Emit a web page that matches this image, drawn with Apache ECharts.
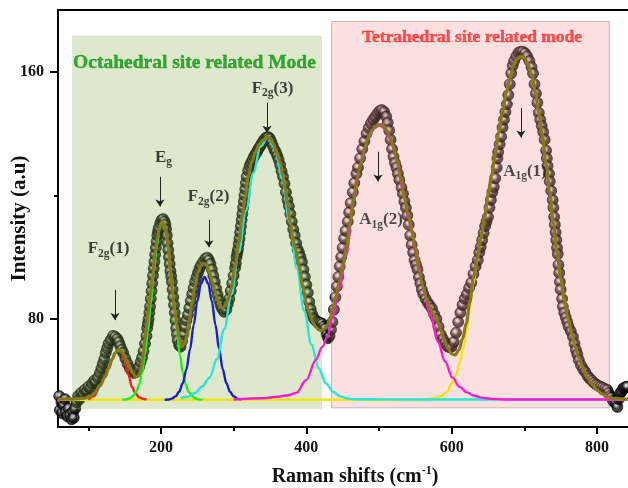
<!DOCTYPE html>
<html><head><meta charset="utf-8">
<script src="https://cdn.jsdelivr.net/npm/echarts@6/dist/echarts.min.js"></script>
<style>html,body{margin:0;padding:0;background:#fff}#c{width:628px;height:488px}</style>
</head><body><div id="c"></div>
<script>
// ---------- data ----------
const measuredSpectrum = [[58,52],[60,55],[61,50.5],[63,53],[64,49.5],[66,52],[68,54],[69,50],[71,48.5],[73,51],[75,49],[77,47.5],[79,50],[80,48],[82,51],[84,53],[86,55],[88,54],[90,56],[93,55.5],[95,57],[98,56.5],[100,58],[103,57.5],[105,59],[108,60],[110,59.5],[113,61],[116,62.5],[118,64],[120,65.5],[122,67],[124,69],[126,70.5],[128,72],[131,73.2],[134,74.5],[137,74.2],[140,73.5],[142,72.5],[144,71.2],[146,70],[148,69],[151,67.2],[154,65.5],[157,64],[160,63],[163,62.5],[166,62.8],[168,63.5],[170,64.5],[172,66],[174,67.5],[176,69.5],[178,72],[180,74.5],[181,77],[182,78.5],
[183,80],[184,82],[185,84],[186,86.5],[187,89],[188,91.5],[189,94],[190,96.3],[191,98.5],[192,100.8],[193,103],[194,105],[195,107],[196,108.3],[197,109.5],[199,111],[201,112],[203,112.3],[205,111.5],[206,110.5],[207,109],[208,107],[209,104.5],[210,102.3],[211,100],[212,97.8],[213,95.5],[214,93.8],[215,92],[216,89.5],[217,87],[218,84.5],[219,82],[220,79.5],[221,77],[222,75],[223,73],[225,71.5],[227,71],[229,72.8],[231,75],[233,77.4],[235,79.5],[237,81.3],[239,83.5],[241,85.8],[243,88],[245,90],[247,92],[249,93.5],[251,95],[253,96.3],[255,97.3],[258,98.4],[261,99.5],[264,99.8],[266,99],[268,97.8],[270,96],[272,94],[274,92],[276,89.8],[278,87.8],[280,86],[282,84.5],[284,83.3],[287,82.3],[290,83],[292,84.8],[294,86.5],[296,89],[298,91.5],[300,94],
[302,96.5],[303,98],[304,100],[305,101.3],[306,102.5],[307,104.3],[308,106],[309,108],[310,110],[311,112],[312,114],[313,116],[314,118],[315,120],[316,122],[317,124],[318,126],[320,128],[322,129.5],[324,130.5],[326,131.5],[328,132.5],[330,133.3],[332,134],[334,135],[336,135.7],[338,136.5],[340,137.3],[342,138],[344,138.6],[346,138.8],[348,138.8],[350,138.3],[352,137.2],[354,136],[356,134.8],[358,134],[360,132.8],[362,131.5],[364,129.8],[366,127.8],[368,126],[370,123.8],[372,121],[374,118.5],[376,116.5],[378,114],[380,111.5],[382,109],[384,107],[386,104.5],[388,102.5],[390,101.5],[392,100],[394,98.4],[396,96],[398,93.6],[400,91],[402,88.5],[404,85.5],[406,83.2],[408,81.5],[410,80.3],[412,79.8],[414,79.2],[416,79],[418,78.8],[420,78.6],[422,78.4],[424,77.5],[426,76.8],[428,75],[430,73.8],[432,74.5],[434,76.5],[436,79],[438,83],[440,87],[442,90.5],[444,93.6],
[446,97],[448,100],[450,103],[452,106],[454,108.5],[457,111.5],[459,114.5],[461,117.5],[464,121],[466,124],[469,127],[471,129],[474,132],[477,135],[480,137.5],[483,140],[486,141.8],[489,143.3],[492,144.5],[495,145.5],[498,146.5],[501,147.3],[504,147.6],[507,147],[510,145.5],[512,143.5],[514,141],[516,138],[518,135],[520,132.5],[522,130.5],[524,129],[526,127],[528,125],[531,122.5],[533,120.5],[535,118],[537,116],[539,113.5],[541,110.5],[543,107],[545,104],[547,101.5],[549,99],[551,97.5],[553,96],[555,93.5],[557,91.5],[559,89.5],[561,88],[564,86.5],[567,85.3],[570,84.3],[573,83.3],[576,81.5],[579,80],[582,77.5],[585,75],[588,73.5],[591,72.2],[594,71.2],[597,70.8],[600,71],[603,72.5],[606,75.5],[609,79],[612,82],[615,84.5],[618,86.5],[621,88],[624,90],[627,91.7],[630,94.5],[633,97],[636,99],[638,101.5],[640,103.3],[642,105.5],[644,107.8],[646,110],[648,111.5],[650,113],[652,116],[654,118.5],[656,121],[658,122.7],[660,125.5],[662,129],[663,132],[664,134],[666,136.5],[668,139],[670,142],[672,144.5],[674,147],[676,149.5],[678,152.5],[680,156],[682,159.5],[684,162],[686,163.5],[689,165],[692,166.2],[695,166.5],[698,166.5],[701,166],[704,165],[707,163.5],[710,161.5],[712,159.5],[714,156],[716,153],[718,150],[720,146.7],[722,144.5],[724,142.5],[726,140.5],[728,138],[730,134.5],[731,132],[732,129.5],[734,127],[735,124.5],[737,121.5],[739,118.5],[740,116],[741,113],[742,110.5],[743,108],[744,105.5],[745,103],[746,101],[747,97.5],[748,94.9],[749,92],[750,89.5],[752,86.5],[753,84],[755,82],[757,80.5],[759,79],[761,77.5],[764,76],[767,74.2],[769,72],[771,70],[773,68.5],[775,66.7],[778,65],[781,63.7],[784,62.8],[787,61.5],[790,60.7],[793,60],[796,59.3],[799,58.8],[802,58.3],[805,58],[808,57.7],[811,57.3],[814,57],[816,56],[818,55],[820,54.5],[822,53.5],[824,53],[826,52.8],[828,51.5],[830,54],[832,56],[834,56.5],[836,57.5],[838,57.7],[840,58],[842,58]];

const fitSum = [[58,54],[80,54],[95,54.3],[103,55],[109,56],[116,58.3],[123,61.2],[128,64],[133,67],[137,69],[141,70],[145,69.6],[148,68.8],[153,66.5],[157,64.5],[161,62.5],[165,61.3],[168,61.5],[171,62.5],[173,64.5],[175,67.7],[178,73.5],[180,77.5],[182,82],[185,87.5],[188,93.2],[192,101.5],[195,106],[198,109.5],[201,111.4],[204,110.8],[207,108.5],[210,103.5],[213,95.5],[216,88],[219,82.5],[222,78],[225,74],[229,71],[232,71.8],[236,74.5],[239,79.5],[243,85.5],[247,90.5],[251,95],[255,97.2],[259,98],[263,97.3],[267,95],[271,91.8],[275,88.5],[279,85.5],[282,84],[285,83.5],[288,84.2],[292,86],[296,89.5],[302,96.8],[307,104.5],[312,113.5],[316,119.5],[320,126],[325,130.8],[330,134],[335,136.5],[340,137.8],[346,138.9],[351,138.3],[355,136.5],[360,133.5],[364,130.5],[368,126],[371,122.5],[374,117.5],[378,111.5],[381,107],[385,102.5],[390,97],[395,90.5],[400,85],[404,82],[409,79],[413,77.4],[417,76.5],[420,76.2],[425,76.8],[429,78],[433,80.5],[436,83],[441,87.5],[445,91.7],[450,97],[455,102.5],[460,111],[465,118.5],[470,125.3],[475,130.5],[480,135],[485,138.5],[490,141],[495,142.4],[500,142.9],[505,142.8],[510,141.4],[515,139],[520,135.5],[525,131.3],[530,125.5],[535,119.2],[540,114],[545,108.6],[550,102.8],[555,96],[560,90.8],[565,87],[570,83.9],[575,81.5],[580,79.5],[585,76.5],[590,73],[595,70.3],[600,68.7],[605,68.3],[610,70],[615,73.5],[620,78.5],[625,85.5],[630,93.5],[635,99.5],[640,106],[645,112.5],[650,120],[655,126.5],[660,133.5],[665,140.5],[670,146.8],[675,153],[680,157.8],[685,162],[690,164.2],[695,165],[700,164.7],[705,162.5],[710,159],[715,153.5],[720,146.7],[725,139],[730,130],[735,121],[740,111],[745,101.5],[750,93],[755,86.3],[760,80.6],[765,75.5],[770,71],[775,67.5],[780,64.5],[786,61.2],[793,58.8],[800,57],[807,55.7],[814,54.7],[822,54.2],[832,54.1],[842,54]];

const peakF2g1 = [[100,53.85],[108,55],[116,58.3],[123,61.2],[128,64],[133,67],[137,69],[141,69.9],[145,69.4],[150,66.8],[155,62],[160,58],[165,55.8],[170,54.6],[175,54.1],[180,53.85]];
const peakEg = [[147,53.8],[152,53.95],[157,54.3],[162,55.1],[166,56.4],[170,58.8],[174,62.7],[178,68.4],[182,76],[186,85],[190,94.6],[194,103.1],[198,109.1],[202,111.2],[206,109.1],[210,103.1],[214,94.6],[218,85],[222,76],[226,68.4],[230,62.7],[234,58.8],[238,56.4],[242,55.1],[247,54.3],[252,53.95],[257,53.8]];
const peakF2g2 = [[205,53.8],[210,53.9],[215,54.2],[220,54.9],[225,56.4],[230,59.2],[235,63.7],[240,70.2],[245,78],[250,85.7],[255,91.4],[260,93.6],[265,91.4],[270,85.7],[275,78],[280,70.2],[285,63.7],[290,59.2],[295,56.4],[300,54.9],[305,54.2],[310,53.9]];
const peakF2g3 = [[227,54.4],[237,54.8],[247,56],[257,58.2],[267,61],[277,67],[287,76.6],[297,87.9],[307,101.5],[317,115],[327,127.2],[337,135.8],[347,138.8],[357,135.2],[367,125.3],[377,111.4],[387,96.3],[397,82.6],[407,71.7],[417,64],[427,59.1],[437,56.4],[447,54.9],[457,54.25],[467,54],[500,53.95],[650,53.9],[842,53.9]];
const peakA1g2 = [[300,53.9],[340,54.3],[360,54.8],[375,55.3],[386,56],[400,60.2],[413,66.7],[422,70.9],[429,74.2],[436,80.6],[445,89.4],[455,100.5],[465,118.3],[475,130.2],[485,138.3],[493,141.7],[501,142.7],[509,141.5],[517,137.5],[525,131.2],[533,121.6],[541,112.5],[551,101.7],[561,90.2],[571,80.8],[581,72.6],[591,66.2],[601,61],[611,58],[621,56.2],[631,55.1],[641,54.5],[656,54.1],[680,53.9],[842,53.9]];
const peakA1g1 = [[58,53.8],[540,53.8],[565,54],[578,54.4],[586,55],[593,56.3],[601,59.3],[606,62],[611,65.8],[616,70.5],[621,76.5],[625,83],[630,91.5],[635,98.8],[640,105.5],[645,112.3],[650,120],[655,126.5],[660,133.5],[665,140.5],[670,146.8],[675,153],[680,157.8],[685,162],[690,164.2],[695,165],[700,164.7],[705,162.5],[710,159],[715,153.5],[720,146.7],[725,139],[730,130],[735,121],[740,111],[745,101.5],[750,93],[755,86.3],[760,80.6],[765,75.5],[770,71],[775,67.5],[780,64.5],[786,61.2],[793,58.8],[800,57],[807,55.7],[814,54.7],[822,54.2],[832,53.9],[842,53.8]];

const xMajorTicks = [200, 400, 600, 800];
const xMinorTicks = [100, 300, 500, 700];
const yMajorTicks = [80, 160];
const yMinorTicks = [120];

// ---------- layout / annotations ----------
const FONT = 'Liberation Serif';
const X_MIN = 58.3, X_MAX = 875.7, Y_MIN = 45, Y_MAX = 180;

const regionBoxes = [
  {from: [77.5, 50.85], to: [421.6, 171.7], color: 'rgba(120,164,56,0.25)', border: 'transparent'},
  {from: [434.9, 51.2], to: [816.9, 176.3], color: 'rgba(248,136,136,0.25)', border: 'rgba(150,100,100,0.45)'}
];
const peakNotes = [
  {t: 'F{s|2g}(1)', at: [127.8, 102.7], c: '#111'},
  {t: 'E{s|g}', at: [203.5, 132.3], c: '#111'},
  {t: 'F{s|2g}(2)', at: [265.4, 119.5], c: '#111'},
  {t: 'F{s|2g}(3)', at: [353.5, 154.7], c: '#111'},
  {t: 'A{s|1g}(2)', at: [502.8, 112.1], c: '#222'},
  {t: 'A{s|1g}(1)', at: [700.9, 127.8], c: '#222'}
];
const arrows = [
  [136.7, 89.4, 79.6], [198.6, 126, 116.4], [266, 112.1, 103.2],
  [345.9, 150, 140.3], [498.6, 134.1, 124.5], [695.4, 148.3, 138.7]
];

const chart = echarts.init(document.getElementById('c'));

const sphere = new echarts.graphic.RadialGradient(0.42, 0.38, 0.6, [
  {offset: 0, color: '#ffffff'},
  {offset: 0.2, color: '#c4c4c4'},
  {offset: 0.5, color: '#1e1e1e'},
  {offset: 1, color: '#000000'}
]);

function compLine(name, data, color) {
  return {
    name, type: 'line', data, smooth: 0.35, smoothMonotone: 'x', symbol: 'none',
    lineStyle: {color, width: 2.4}, z: 10, silent: true
  };
}

const axisFont = {fontFamily: FONT, fontWeight: 'bold', color: '#111'};
const noHalo = {textBorderWidth: 0, textBorderColor: 'transparent', textShadowBlur: 0};

const option = {
  animation: false,
  backgroundColor: '#ffffff',
  grid: {left: 58, right: -24, top: 10, bottom: 61, containLabel: false, outerBoundsMode: 'none'},
  xAxis: [
    {
      type: 'value', min: X_MIN, max: X_MAX, position: 'bottom',
      axisLine: {show: true, onZero: false, lineStyle: {color: '#000', width: 2}},
      axisTick: {show: true, customValues: xMajorTicks, length: 7, lineStyle: {color: '#000', width: 2}},
      axisLabel: Object.assign({show: true, customValues: xMajorTicks, margin: 13, fontSize: 16}, axisFont),
      splitLine: {show: false},
      name: 'Raman shifts (cm{sup|-1})', nameLocation: 'middle', nameGap: 38, nameMoveOverlap: false,
      nameTextStyle: Object.assign({fontSize: 20, lineHeight: 24,
        rich: {sup: Object.assign({fontSize: 12, lineHeight: 12, verticalAlign: 'top'}, axisFont)}}, axisFont)
    },
    {
      type: 'value', min: X_MIN, max: X_MAX, position: 'bottom',
      axisLine: {show: false}, axisLabel: {show: false}, splitLine: {show: false},
      axisTick: {show: true, customValues: xMinorTicks, length: 4, lineStyle: {color: '#000', width: 2}}
    },
    {
      type: 'value', min: X_MIN, max: X_MAX, position: 'top',
      axisLine: {show: true, onZero: false, lineStyle: {color: '#000', width: 2}},
      axisTick: {show: false}, axisLabel: {show: false}, splitLine: {show: false}
    }
  ],
  yAxis: [
    {
      type: 'value', min: Y_MIN, max: Y_MAX, position: 'left',
      axisLine: {show: true, onZero: false, lineStyle: {color: '#000', width: 2}},
      axisTick: {show: true, customValues: yMajorTicks, length: 8, lineStyle: {color: '#000', width: 2}},
      axisLabel: Object.assign({show: true, customValues: yMajorTicks, margin: 14, fontSize: 16}, axisFont),
      splitLine: {show: false},
      name: 'Intensity (a.u)', nameLocation: 'middle', nameGap: 28, nameRotate: 90, nameMoveOverlap: false,
      nameTextStyle: Object.assign({fontSize: 21}, axisFont)
    },
    {
      type: 'value', min: Y_MIN, max: Y_MAX, position: 'left',
      axisLine: {show: false}, axisLabel: {show: false}, splitLine: {show: false},
      axisTick: {show: true, customValues: yMinorTicks, length: 4, lineStyle: {color: '#000', width: 2}}
    }
  ],
  series: [
    {
      name: 'measured', type: 'scatter', data: measuredSpectrum, symbol: 'circle', symbolSize: 11,
      itemStyle: {color: sphere, borderColor: '#000', borderWidth: 0.8}, z: 2, silent: true
    },
    {
      name: 'regions', type: 'line', data: [], z: 3, silent: true, symbol: 'none',
      markArea: {
        silent: true, z: 3,
        data: regionBoxes.map(r => [
          {coord: r.from, itemStyle: {color: r.color, borderColor: r.border, borderWidth: 1}},
          {coord: r.to}
        ])
      }
    },
    {
      name: 'notes', type: 'scatter', symbolSize: 0, z: 4, silent: true,
      itemStyle: {color: 'transparent'},
      data: peakNotes.map(n => ({value: n.at, label: Object.assign({color: n.c, rich: {s: Object.assign({fontFamily: FONT, fontWeight: 'bold', fontSize: 11.5, lineHeight: 11, verticalAlign: 'bottom', color: n.c}, noHalo)}, formatter: n.t}, noHalo)})),
      label: Object.assign({show: true, position: 'inside', fontFamily: FONT, fontWeight: 'bold', fontSize: 17, lineHeight: 22}, noHalo),
      markLine: {
        silent: true, z: 4, symbol: ['none', 'arrow'], symbolSize: 7, animation: false,
        label: {show: false},
        lineStyle: {color: '#222', width: 1, type: 'solid'},
        data: arrows.map(a => [{coord: [a[0], a[1]]}, {coord: [a[0], a[2]]}])
      }
    },
    compLine('A1g(1)', peakA1g1, '#f2e600'),
    compLine('F2g(1)', peakF2g1, '#ff1a1a'),
    compLine('Eg', peakEg, '#22ee22'),
    compLine('F2g(2)', peakF2g2, '#1c1cc8'),
    compLine('F2g(3)', peakF2g3, '#26e6d8'),
    compLine('A1g(2)', peakA1g2, '#ff1ad2'),
    {
      name: 'fit', type: 'line', data: fitSum, smooth: 0.35, smoothMonotone: 'x', symbol: 'none',
      lineStyle: {color: '#867a1c', width: 3.2}, z: 11, silent: true
    },
    {
      name: 'titles', type: 'scatter', symbolSize: 0, z: 12, silent: true, itemStyle: {color: 'transparent'},
      label: Object.assign({show: true, position: 'inside', fontFamily: FONT, fontWeight: 'bold'}, noHalo),
      data: [
        {value: [246.1, 162.9], label: {formatter: 'Octahedral site related Mode', color: '#0c930c', fontSize: 19.5, textBorderColor: '#0c930c', textBorderWidth: 0.4}},
        {value: [628, 171], label: {formatter: 'Tetrahedral site related mode', color: '#ff2727', fontSize: 17.5, textBorderColor: '#ff2727', textBorderWidth: 0.4}}
      ]
    }
  ]
};
chart.setOption(option);
</script>
</body></html>
